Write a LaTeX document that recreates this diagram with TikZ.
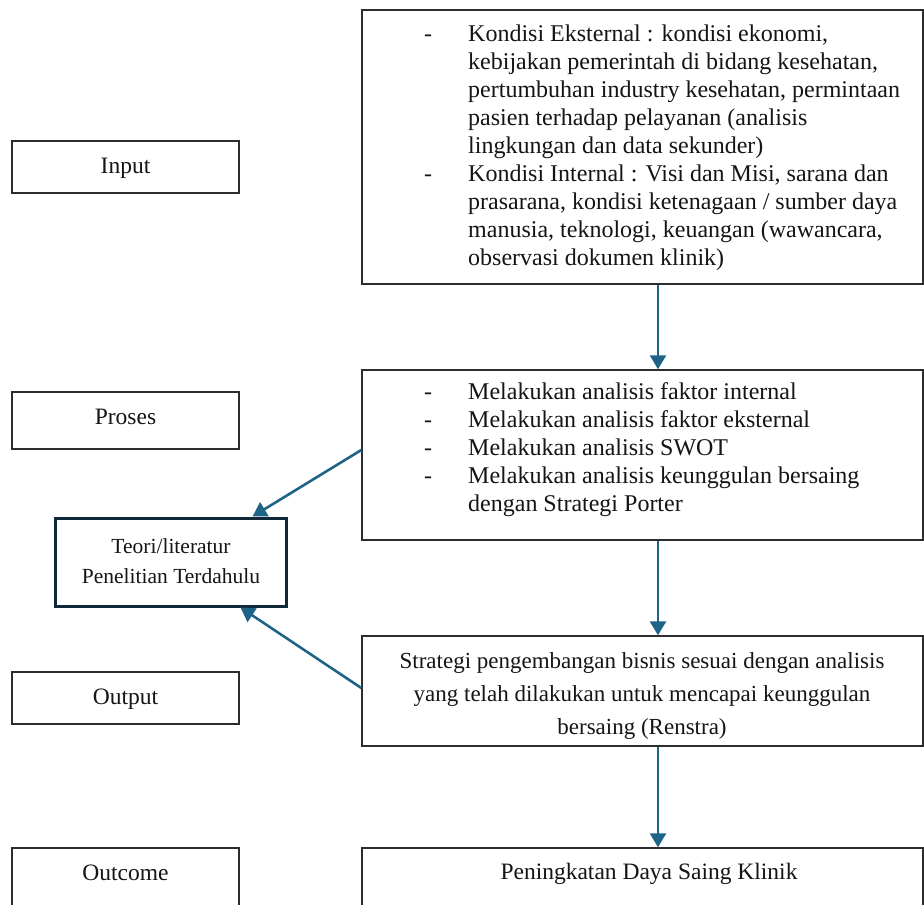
\documentclass[tikz,border=0pt]{standalone}
\usepackage{fontspec}
\setmainfont{Liberation Serif}
\usetikzlibrary{arrows.meta}
\definecolor{arr}{RGB}{30,100,134}
\definecolor{navy}{RGB}{16,40,56}
\definecolor{boxc}{RGB}{45,45,45}
\definecolor{txtc}{RGB}{20,20,25}
\begin{document}
\begin{tikzpicture}[x=1pt,y=-1pt,
  box/.style={draw=boxc,line width=1.4pt,rectangle,inner sep=0pt},
  conn/.style={draw=arr,line width=2.6pt,-{Triangle[length=14pt,width=16pt]}},
  txt/.style={inner sep=0pt,anchor=base,text=txtc,font=\fontsize{23.5}{28}\selectfont},
  lst/.style={inner sep=0pt,anchor=base west,text=txtc,font=\fontsize{24}{28}\selectfont}]
\clip (0,0) rectangle (924,905);
\fill[white] (0,0) rectangle (924,905);
% left column boxes
\node[box,minimum width=227pt,minimum height=52pt] (inp) at (125.5,167) {};
\node[box,minimum width=227pt,minimum height=57pt] (pros) at (125.5,420.5) {};
\node[box,minimum width=227pt,minimum height=52pt] (outp) at (125.5,698) {};
\node[box,minimum width=227pt,minimum height=112pt] (outc) at (125.5,904) {};
\node[txt] (tinp) at (125.5,173) {Input};
\node[txt] (tpros) at (125.5,424) {Proses};
\node[txt] (toutp) at (125.5,704) {Output};
\node[txt] (toutc) at (125.5,880) {Outcome};
% theory box
\node[draw=navy,line width=3pt,rectangle,inner sep=0pt,minimum width=231pt,minimum height=88pt] (teori) at (170.5,562) {};
\node[inner sep=0pt,anchor=base,text=txtc,font=\fontsize{21.5}{30}\selectfont,align=center] (tteori) at (171,583) {Teori/literatur\\Penelitian Terdahulu};
% right column boxes
\node[box,minimum width=561pt,minimum height=274pt] (ext) at (642.5,147) {};
\node[box,minimum width=561pt,minimum height=170pt] (proc) at (642.5,455) {};
\node[box,minimum width=561pt,minimum height=110pt] (res) at (642.5,691) {};
\node[box,minimum width=561pt,minimum height=112pt] (imp) at (642.5,904) {};
\node[lst] (text) at (424,41) {\begin{tabular}[t]{@{}p{44pt}@{}l@{}}
-& Kondisi Eksternal : kondisi ekonomi,\\
 & kebijakan pemerintah di bidang kesehatan,\\
 & pertumbuhan industry kesehatan, permintaan\\
 & pasien terhadap pelayanan (analisis\\
 & lingkungan dan data sekunder)\\
-& Kondisi Internal : Visi dan Misi, sarana dan\\
 & prasarana, kondisi ketenagaan / sumber daya\\
 & manusia, teknologi, keuangan (wawancara,\\
 & observasi dokumen klinik)
\end{tabular}};
\node[lst] (tproc) at (424,399) {\begin{tabular}[t]{@{}p{44pt}@{}l@{}}
-& Melakukan analisis faktor internal\\
-& Melakukan analisis faktor eksternal\\
-& Melakukan analisis SWOT\\
-& Melakukan analisis keunggulan bersaing\\
 & dengan Strategi Porter
\end{tabular}};
\node[inner sep=0pt,anchor=base,text=txtc,font=\fontsize{23}{33}\selectfont,align=center] (tres) at (642,734) {Strategi pengembangan bisnis sesuai dengan analisis\\yang telah dilakukan untuk mencapai keunggulan\\bersaing (Renstra)};
\node[txt] (timp) at (649,879) {Peningkatan Daya Saing Klinik};
% connectors
\coordinate (ax) at (658,0);
\draw[conn] (ext.south -| ax) -- (proc.north -| ax);
\draw[conn] (proc.south -| ax) -- (res.north -| ax);
\draw[conn] (res.south -| ax) -- (imp.north -| ax);
\draw[conn] ([yshift=5pt]proc.west) -- ([xshift=82pt]teori.north);
\draw[conn] ([yshift=3pt]res.west) -- ([xshift=70pt]teori.south);
\end{tikzpicture}
\end{document}
